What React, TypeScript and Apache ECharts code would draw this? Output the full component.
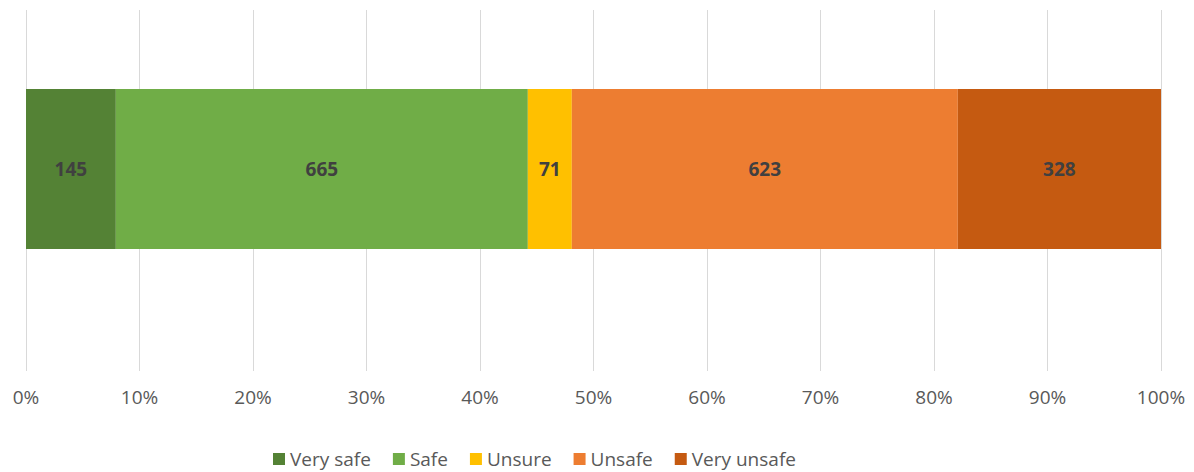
import React, { useEffect, useRef } from "react";
import * as echarts from "echarts";

const categories = ["Very safe", "Safe", "Unsure", "Unsafe", "Very unsafe"];
const counts = [145, 665, 71, 623, 328];
const colors = ["#548235", "#70AD47", "#FFC000", "#ED7D31", "#C55A11"];
const tickLabels = ["0%", "10%", "20%", "30%", "40%", "50%", "60%", "70%", "80%", "90%", "100%"];

const FONT = "'Open Sans', 'Noto Sans', sans-serif";

export default function App() {
  const ref = useRef<HTMLDivElement>(null);
  useEffect(() => {
    if (!ref.current) return;
    const chart = echarts.init(ref.current, undefined, { renderer: "svg" });
    const total = counts.reduce((a, b) => a + b, 0);
    chart.setOption({
      animation: false,
      textStyle: { fontFamily: FONT },
      legend: {
        top: 443,
        left: 268,
        padding: 5,
        icon: "rect",
        itemWidth: 12,
        itemHeight: 12,
        itemGap: 22,
        textStyle: { fontSize: 19, lineHeight: 22, color: "#595959", fontFamily: FONT },
        data: categories,
      },
      grid: [
        { left: 26, right: 33, top: 10, height: 318 },
        { left: 26, right: 33, top: 10, height: 361 },
      ],
      xAxis: [
        {
          gridIndex: 0,
          type: "value",
          min: 0,
          max: 100,
          show: false,
          splitLine: { show: false },
        },
        {
          gridIndex: 1,
          type: "value",
          min: 0,
          max: 100,
          interval: 10,
          axisLine: { show: false },
          axisTick: { show: false },
          splitLine: { show: true, lineStyle: { color: "#d9d9d9", width: 1 } },
          axisLabel: {
            margin: 16,
            fontSize: 19,
            color: "#595959",
            fontFamily: FONT,
            formatter: (v: number) => tickLabels[Math.round(v / 10)] ?? "",
          },
        },
      ],
      yAxis: [
        { gridIndex: 0, type: "category", data: ["Responses"], show: false },
        { gridIndex: 1, type: "category", data: [""], show: false },
      ],
      series: categories.map((name, i) => ({
        name,
        type: "bar",
        stack: "total",
        xAxisIndex: 0,
        yAxisIndex: 0,
        barWidth: 160,
        itemStyle: { color: colors[i] },
        label: {
          show: true,
          position: "inside",
          fontSize: 19,
          fontWeight: "bold",
          color: "#404040",
          fontFamily: FONT,
          formatter: () => String(counts[i]),
        },
        data: [(counts[i] / total) * 100],
      })),
    });
    return () => chart.dispose();
  }, []);
  return <div ref={ref} style={{ width: 1194, height: 472, position: "absolute", left: 0, top: 0 }} />;
}
